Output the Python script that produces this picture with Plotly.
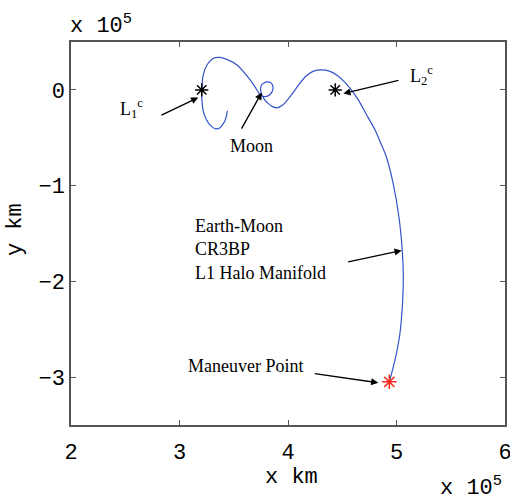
import plotly.graph_objects as go

# Trajectory (units of 1e5 km)
traj_x = [3.442, 3.419, 3.373, 3.327, 3.272, 3.226, 3.207, 3.207, 3.217, 3.253,
          3.309, 3.373, 3.447, 3.530, 3.622, 3.696, 3.737, 3.770, 3.816, 3.853,
          3.862, 3.843, 3.802, 3.760, 3.747, 3.756, 3.779, 3.816, 3.853, 3.899,
          3.954, 4.018, 4.092, 4.157, 4.230, 4.309, 4.387, 4.461, 4.525, 4.590,
          4.654, 4.719, 4.802, 4.857, 4.903, 4.970, 5.023, 5.053, 5.063, 5.057,
          5.032, 4.986, 4.934]
traj_y = [-0.219, -0.323, -0.396, -0.406, -0.354, -0.250, -0.115, 0.000, 0.146, 0.260,
          0.328, 0.339, 0.313, 0.260, 0.146, 0.031, -0.042, -0.068, -0.063, -0.021,
          0.031, 0.073, 0.083, 0.057, 0.010, -0.042, -0.094, -0.141, -0.172, -0.188,
          -0.156, -0.073, 0.042, 0.135, 0.193, 0.208, 0.193, 0.146, 0.078, -0.010,
          -0.115, -0.250, -0.417, -0.563, -0.688, -0.982, -1.333, -1.677, -1.958, -2.198,
          -2.542, -2.823, -3.049]

lib_x = [3.205, 4.435]
lib_y = [0.0, 0.0]
man_x = [4.934]
man_y = [-3.049]

x_ticks = [2, 3, 4, 5, 6]
y_ticks = [-3, -2, -1, 0]

fig = go.Figure()
fig.add_trace(go.Scatter(x=traj_x, y=traj_y, mode="lines", line_shape="spline",
                         line=dict(color="#3553c8", width=1.2, smoothing=0.6),
                         showlegend=False))
fig.add_trace(go.Scatter(x=lib_x, y=lib_y, mode="markers",
                         marker=dict(symbol="asterisk-open", size=11, color="black",
                                     line=dict(color="black", width=1.5)),
                         showlegend=False))
fig.add_trace(go.Scatter(x=man_x, y=man_y, mode="markers",
                         marker=dict(symbol="asterisk-open", size=12, color="#ff2a1a",
                                     line=dict(color="#ff2a1a", width=1.5)),
                         showlegend=False))

serif = dict(family="Liberation Serif", size=18, color="black")
mono = dict(family="Liberation Mono", size=22, color="black")

anns = []
# arrows: (head_x, head_y, tail_x, tail_y)
arrows = [(3.173, -0.080, 2.820, -0.271),
          (3.758, -0.028, 3.564, -0.420),
          (4.510, -0.039, 5.032, 0.104),
          (5.048, -1.677, 4.541, -1.799),
          (4.832, -3.059, 4.233, -2.961)]
for hx, hy, tx, ty in arrows:
    anns.append(dict(x=hx, y=hy, ax=tx, ay=ty, xref="x", yref="y", axref="x", ayref="y",
                     text="", showarrow=True, arrowhead=2, arrowsize=1.1,
                     arrowwidth=1.3, arrowcolor="black"))

labels = [
    ("L<sub>1</sub><sup>c</sup>", 2.553, -0.19, "center"),
    ("Moon", 3.668, -0.59, "center"),
    ("L<sub>2</sub><sup>c</sup>", 5.226, 0.146, "center"),
    ("Earth-Moon<br>CR3BP<br>L1 Halo Manifold", 3.122, -1.667, "left"),
    ("Maneuver Point", 3.060, -2.885, "left"),
]
for t, x, y, xa in labels:
    anns.append(dict(x=x, y=y, xref="x", yref="y", text=t, showarrow=False,
                     xanchor=xa, yanchor="middle", align="left", font=serif))

anns.append(dict(x=0.509, y=-0.138, xref="paper", yref="paper", text="x km",
                 showarrow=False, xanchor="center", yanchor="middle", font=mono))
anns.append(dict(x=-0.129, y=0.509, xref="paper", yref="paper", text="y km",
                 showarrow=False, xanchor="center", yanchor="middle", textangle=-90,
                 font=mono))
anns.append(dict(x=-0.008, y=1.045, xref="paper", yref="paper", text="x 10<sup>5</sup>",
                 showarrow=False, xanchor="left", yanchor="middle", font=mono))
anns.append(dict(x=0.846, y=-0.118, xref="paper", yref="paper", text="x 10<sup>5</sup>",
                 showarrow=False, xanchor="left", yanchor="top", font=mono))

axis_common = dict(showline=True, linecolor="#555555", linewidth=1.5, mirror="ticks",
                   ticks="inside", ticklen=5, tickwidth=1, tickcolor="#555555",
                   showgrid=False, zeroline=False, tickfont=mono, automargin=False,
                   ticklabeloverflow="allow")
fig.update_layout(
    width=510, height=496,
    margin=dict(l=71, r=5, t=42, b=71, autoexpand=False),
    paper_bgcolor="white", plot_bgcolor="white",
    xaxis=dict(range=[2, 6], tickvals=x_ticks, ticktext=[str(v) for v in x_ticks],
               ticklabelstandoff=6, **axis_common),
    yaxis=dict(range=[-3.5, 0.5], tickvals=y_ticks,
               ticktext=[("\u2212" + str(-v)) if v < 0 else str(v) for v in y_ticks],
               **axis_common),
    annotations=anns,
)
fig.write_html("out.html")
